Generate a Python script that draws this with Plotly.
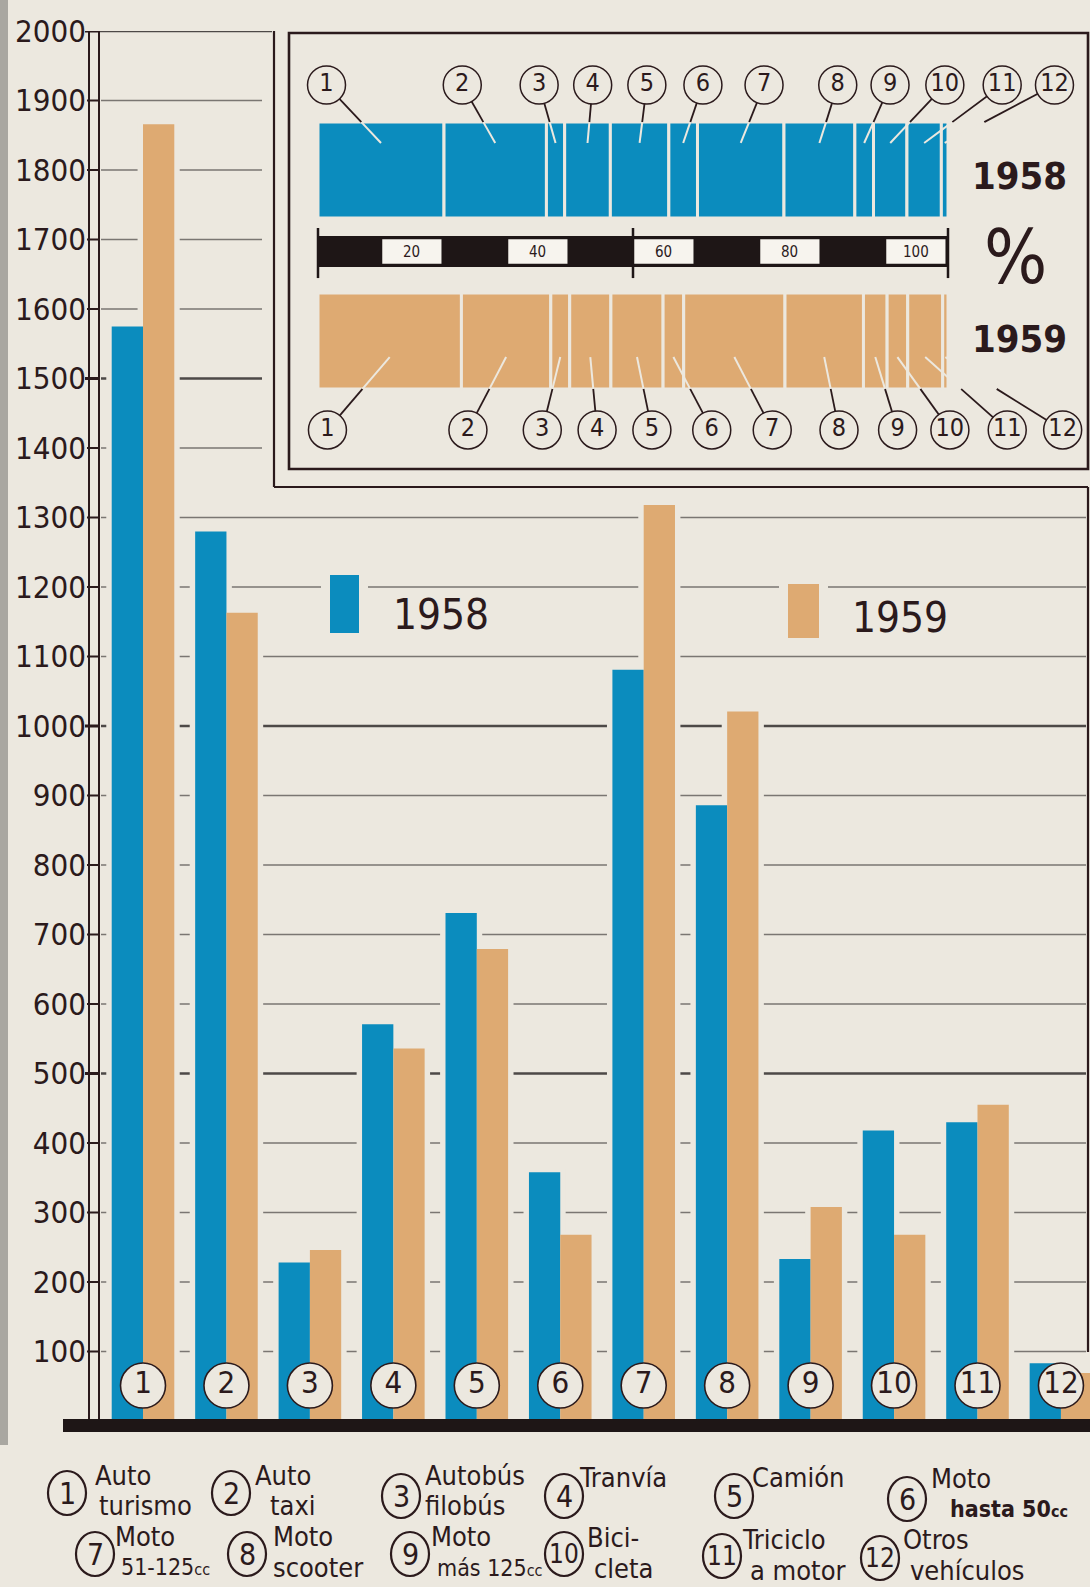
import plotly.graph_objects as go

# ---------------- data ----------------
category_numbers = ["1", "2", "3", "4", "5", "6", "7", "8", "9", "10", "11", "12"]
category_line1 = ["Auto", "Auto", "Autobús", "Tranvía", "Camión", "Moto",
                  "Moto", "Moto", "Moto", "Bici-", "Triciclo", "Otros"]
category_line2 = ["turismo", "taxi", "filobús", "", "", "hasta 50cc",
                  "51-125cc", "scooter", "más 125cc", "cleta", "a motor", "vehículos"]
values_1958 = [1575, 1280, 228, 571, 731, 358, 1081, 886, 233, 418, 430, 83]
values_1959 = [1866, 1163, 246, 536, 679, 268, 1318, 1021, 308, 268, 455, 69]
year_labels = ["1958", "1959"]
y_tick_values = list(range(100, 2001, 100))
pct_scale_ticks = [20, 40, 60, 80, 100]

# ---------------- styling / layout constants ----------------
W, H = 1090, 1587
BG = "#ece8df"
BLUE = "#0b8cbe"
TAN = "#deaa72"
INK = "#2b1a1c"
GRID = "#7a7672"
GRID_BOLD = "#4d4947"
FONT = "DejaVu Sans Condensed, DejaVu Sans, sans-serif"


def px(x):
    return x / W


def py(y):
    return 1 - y / H


n = len(values_1958)
pos = list(range(1, n + 1))

# main plot geometry (pixels)
CAT1_PX, CAT_STEP = 143.0, 83.45
ZERO_PX, TOP_PX, TOP_VAL = 1421.0, 31.0, 2000
BAR_W = 0.375
HALO = 0.065
NUM_Y = 51

# inset geometry
P0_PX, PCT_PX = 318.0, 6.30          # 0 % position and pixels per percent
ROW1958_PX, ROW1959_PX = 170.0, 341.0
ROW_UNIT = ROW1959_PX - ROW1958_PX
ROW_H = 0.56
TOP_LABEL_X = [1.35, 22.9, 35.1, 43.6, 52.2, 61.1, 70.8, 82.5, 90.8, 99.5, 108.6, 116.9]
BOT_LABEL_X = [1.5, 23.8, 35.6, 44.3, 53.0, 62.5, 72.1, 82.7, 92.0, 100.3, 109.4, 118.2]
TOP_LABEL_Y, BOT_LABEL_Y = 1.497, -0.52
END_Y58, END_Y59 = 1.158, -0.094


def shares(vals):
    tot = float(sum(vals))
    pct = [v * 100.0 / tot for v in vals]
    base, c = [], 0.0
    for p in pct:
        base.append(c)
        c += p
    return pct, base


def leaders(pct, base, lab_x, lab_y, end_y, edge_y):
    dx, dy, lx_, ly_ = [], [], [], []
    for p, b, lx in zip(pct, base, lab_x):
        mx = b + p / 2.0
        t = (lab_y - edge_y) / (lab_y - end_y)
        ex = lx + t * (mx - lx)
        dx += [lx, ex, None]
        dy += [lab_y, edge_y, None]
        lx_ += [ex, mx, None]
        ly_ += [edge_y, end_y, None]
    return dx, dy, lx_, ly_


fig = go.Figure()

# ---------- main bars (with background halos that break the grid lines) ----------
fig.add_trace(go.Bar(x=pos, y=[v + 4 for v in values_1958], offset=-BAR_W - HALO,
                     width=BAR_W + 2 * HALO, marker=dict(color=BG, line=dict(width=0)),
                     hoverinfo="skip"))
fig.add_trace(go.Bar(x=pos, y=[v + 4 for v in values_1959], offset=-HALO,
                     width=BAR_W + 2 * HALO, marker=dict(color=BG, line=dict(width=0)),
                     hoverinfo="skip"))
fig.add_trace(go.Bar(x=pos, y=values_1958, offset=-BAR_W, width=BAR_W, name=year_labels[0],
                     marker=dict(color=BLUE, line=dict(width=0))))
fig.add_trace(go.Bar(x=pos, y=values_1959, offset=0, width=BAR_W, name=year_labels[1],
                     marker=dict(color=TAN, line=dict(width=0))))
fig.add_trace(go.Scatter(x=pos, y=[NUM_Y] * n, mode="markers+text", text=category_numbers,
                         textposition="middle center", cliponaxis=False, hoverinfo="skip",
                         marker=dict(size=45, color=BG, line=dict(color=INK, width=1.6)),
                         textfont=dict(family=FONT, size=31, color=INK)))

# ---------- inset: percentage bars ----------
pct58, base58 = shares(values_1958)
pct59, base59 = shares(values_1959)
d58x, d58y, l58x, l58y = leaders(pct58, base58, TOP_LABEL_X, TOP_LABEL_Y, END_Y58, 1 + ROW_H / 2)
d59x, d59y, l59x, l59y = leaders(pct59, base59, BOT_LABEL_X, BOT_LABEL_Y, END_Y59, -ROW_H / 2)

fig.add_trace(go.Scatter(x=d58x + d59x, y=d58y + d59y, mode="lines", xaxis="x2", yaxis="y2",
                         line=dict(color=INK, width=1.8), hoverinfo="skip", cliponaxis=False))
fig.add_trace(go.Bar(x=pct58, base=base58, y=[1] * n, orientation="h", width=ROW_H,
                     xaxis="x2", yaxis="y2", marker=dict(color=BLUE, line=dict(color=BG, width=3))))
fig.add_trace(go.Bar(x=pct59, base=base59, y=[0] * n, orientation="h", width=ROW_H,
                     xaxis="x2", yaxis="y2", marker=dict(color=TAN, line=dict(color=BG, width=3))))
fig.add_trace(go.Scatter(x=l58x + l59x, y=l58y + l59y, mode="lines", xaxis="x2", yaxis="y2",
                         line=dict(color=BG, width=2), hoverinfo="skip"))
fig.add_trace(go.Scatter(x=TOP_LABEL_X + BOT_LABEL_X,
                         y=[TOP_LABEL_Y] * n + [BOT_LABEL_Y] * n,
                         mode="markers+text", text=category_numbers + category_numbers,
                         textposition="middle center", xaxis="x2", yaxis="y2", cliponaxis=False,
                         hoverinfo="skip",
                         marker=dict(size=38, color=BG, line=dict(color=INK, width=1.5)),
                         textfont=dict(family=FONT, size=25, color=INK)))

# ---------------- shapes ----------------
shapes = []
# scanned left edge strip
shapes.append(dict(type="rect", xref="paper", yref="paper", x0=0, x1=px(8), y0=py(1445), y1=1,
                   fillcolor="#a9a7a1", line=dict(width=0), layer="below"))
# grid lines
for v in y_tick_values:
    if v == 2000:
        x0, x1 = 100, 272
    elif v >= 1400:
        x0, x1 = 101, 262
    else:
        x0, x1 = 101, 1086
    bold = v % 500 == 0
    shapes.append(dict(type="line", xref="paper", yref="y", x0=px(x0), x1=px(x1), y0=v, y1=v,
                       line=dict(color=GRID_BOLD if bold else GRID, width=2.4 if bold else 1.3),
                       layer="below"))
# legend squares with halos
legend_boxes = [(330, 359, 575, 633, BLUE), (788, 819, 584, 638, TAN)]
for x0, x1, y0, y1, col in legend_boxes:
    shapes.append(dict(type="rect", xref="paper", yref="paper", x0=px(x0 - 9), x1=px(x1 + 9),
                       y0=py(y1 + 6), y1=py(y0 - 6), fillcolor=BG, line=dict(width=0), layer="below"))
    shapes.append(dict(type="rect", xref="paper", yref="paper", x0=px(x0), x1=px(x1),
                       y0=py(y1), y1=py(y0), fillcolor=col, line=dict(width=0), layer="below"))
# ruler (y axis)
for xr in (89, 99):
    shapes.append(dict(type="line", xref="paper", yref="paper", x0=px(xr), x1=px(xr),
                       y0=py(1420), y1=py(TOP_PX), line=dict(color=INK, width=2)))
for v in y_tick_values:
    bold = v % 500 == 0
    shapes.append(dict(type="line", xref="paper", yref="y", x0=px(85 if bold else 87), x1=px(99),
                       y0=v, y1=v, line=dict(color=INK, width=3 if bold else 2)))
# outer frame
frame = [((274, 31), (274, 487)), ((274, 487), (1088, 487)), ((1088, 487), (1088, 1352))]
for (ax, ay), (bx, by) in frame:
    shapes.append(dict(type="line", xref="paper", yref="paper", x0=px(ax), x1=px(bx),
                       y0=py(ay), y1=py(by), line=dict(color=INK, width=2.2)))
# inset box
shapes.append(dict(type="rect", xref="paper", yref="paper", x0=px(289), x1=px(1088),
                   y0=py(469), y1=py(33), line=dict(color=INK, width=2.6)))
# baseline
shapes.append(dict(type="rect", xref="paper", yref="paper", x0=px(63), x1=1,
                   y0=py(1432), y1=py(1419), fillcolor="#1e1616", line=dict(width=0)))
# inset percentage scale
shapes.append(dict(type="rect", xref="x2", yref="y2", x0=0, x1=100, y0=0.433, y1=0.614,
                   fillcolor="#1e1616", line=dict(width=0)))
for t in (0, 50, 100):
    shapes.append(dict(type="line", xref="x2", yref="y2", x0=t, x1=t, y0=0.368, y1=0.661,
                       line=dict(color="#1e1616", width=2.5)))
for t in pct_scale_ticks:
    shapes.append(dict(type="rect", xref="x2", yref="y2", x0=t - 9.8, x1=t - 0.4, y0=0.452,
                       y1=0.595, fillcolor="#f7f4ee", line=dict(width=0)))

# ---------------- annotations ----------------
ann = []


def add_text(x, y, text, size, xref="paper", yref="paper", xanchor="center", weight="normal"):
    ann.append(dict(xref=xref, yref=yref, x=x, y=y, text=text, showarrow=False,
                    xanchor=xanchor, yanchor="middle",
                    font=dict(family=FONT, size=size, color=INK, weight=weight)))


for t in pct_scale_ticks:
    add_text(t - 5.1, 0.523, str(t), 15, xref="x2", yref="y2")
add_text(px(1019), py(176), year_labels[0], 38, weight="bold")
add_text(px(1015), py(257), "%", 74)
add_text(px(1019), py(339), year_labels[1], 38, weight="bold")
add_text(px(391), py(614), year_labels[0], 42, xanchor="left")
add_text(px(850), py(618), year_labels[1], 42, xanchor="left")

# bottom legend: circle centre, first line, second line (pixels)
legend_pos = [
    ((67, 1493), (93, 1475), (97, 1505)),
    ((231, 1493), (253, 1475), (268, 1505)),
    ((401, 1496), (423, 1475), (423, 1505)),
    ((564, 1496), (577, 1477), None),
    ((734, 1496), (750, 1477), None),
    ((907, 1499), (929, 1478), (948, 1509)),
    ((95, 1554), (113, 1536), (119, 1567)),
    ((247, 1554), (271, 1536), (271, 1567)),
    ((410, 1554), (429, 1536), (435, 1568)),
    ((564, 1554), (585, 1537), (592, 1568)),
    ((722, 1556), (740, 1539), (748, 1570)),
    ((880, 1558), (901, 1539), (908, 1570)),
]
for i, ((cx, cy), p1, p2) in enumerate(legend_pos):
    shapes.append(dict(type="circle", xref="paper", yref="paper", x0=px(cx - 19), x1=px(cx + 19),
                       y0=py(cy + 22), y1=py(cy - 22), line=dict(color=INK, width=2.2)))
    add_text(px(cx), py(cy), category_numbers[i], 30 if len(category_numbers[i]) == 1 else 26)
    add_text(px(p1[0]), py(p1[1]), category_line1[i], 27, xanchor="left")
    if p2 is not None and category_line2[i]:
        txt = category_line2[i]
        if txt.endswith("cc"):
            txt = txt[:-2] + "<span style='font-size:16px'>cc</span>"
        if i == 5:
            size, weight = 23, "bold"
        elif txt[0].isdigit() or txt.startswith("m"):
            size, weight = 23, "normal"
        else:
            size, weight = 27, "normal"
        add_text(px(p2[0]), py(p2[1]), txt, size, xanchor="left", weight=weight)

fig.update_layout(
    width=W, height=H, autosize=False,
    margin=dict(l=0, r=0, t=0, b=0, pad=0, autoexpand=False),
    paper_bgcolor=BG, plot_bgcolor="rgba(0,0,0,0)",
    showlegend=False, barmode="overlay",
    xaxis=dict(domain=[0, 1], range=[1 - CAT1_PX / CAT_STEP, 1 + (W - CAT1_PX) / CAT_STEP],
               visible=False, fixedrange=True, anchor="y", automargin=False),
    yaxis=dict(domain=[py(ZERO_PX), py(TOP_PX)], range=[0, TOP_VAL], tickvals=y_tick_values,
               ticktext=[str(v) for v in y_tick_values], ticks="", showgrid=False,
               zeroline=False, showline=False, anchor="free", position=px(87),
               ticklabelstandoff=1, automargin=False,
               tickfont=dict(family=FONT, size=31, color=INK), fixedrange=True),
    xaxis2=dict(domain=[px(289), px(1088)],
                range=[(289 - P0_PX) / PCT_PX, (1088 - P0_PX) / PCT_PX],
                visible=False, anchor="y2", fixedrange=True, automargin=False),
    yaxis2=dict(domain=[py(455), py(55)],
                range=[-(455 - ROW1959_PX) / ROW_UNIT, 1 + (ROW1958_PX - 55) / ROW_UNIT],
                visible=False, anchor="x2", fixedrange=True, automargin=False),
    shapes=shapes, annotations=ann,
)

fig.write_html(
    "out.html",
    config={"responsive": False, "displayModeBar": False},
    post_script=("document.body.style.margin='0';document.body.style.padding='0';"
                 "document.body.style.overflow='hidden';"
                 "document.body.style.background='" + BG + "';"),
)
